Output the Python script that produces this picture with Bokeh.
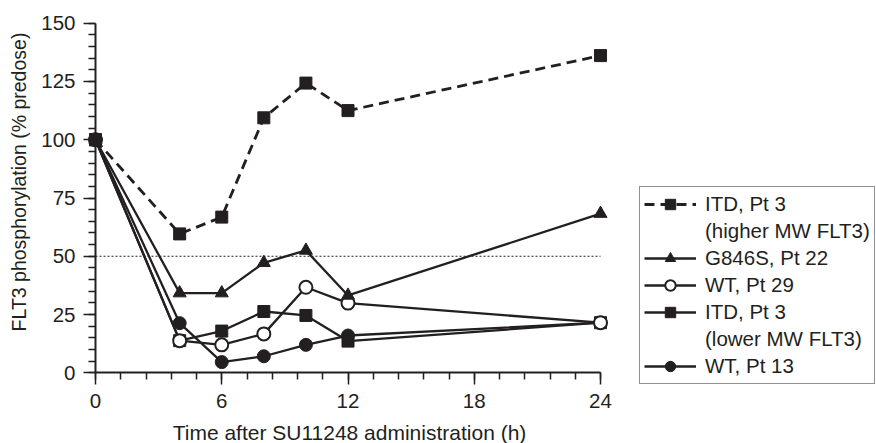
import math
from bokeh.plotting import figure
from bokeh.models import (Range1d, SingleIntervalTicker, Label, Legend, LegendItem)
from bokeh.embed import file_html
from bokeh.resources import INLINE

# ---- data ----
times = [0, 4, 6, 8, 10, 12, 24]
itd_high = [100, 59.6, 66.8, 109.4, 124.3, 112.5, 136.1]
g846s = [100, 34.2, 34.2, 47.2, 52.5, 33.2, 68.3]
wt29 = [100, 13.8, 12.0, 16.7, 36.7, 29.9, 21.5]
itd_low = [100, 13.8, 17.9, 26.3, 24.6, 13.6, 21.5]
wt13 = [100, 21.3, 4.6, 7.1, 12.0, 16.0, 21.5]
ref_x = [0, 24]
ref_y = [50, 50]
x_bounds = (0, 24)
y_bounds = (0, 150)
x_tick_interval = 6
y_tick_interval = 25

INK = "#231f20"
FONT = "Liberation Sans"

W, H = 876, 443
# canvas pixel positions of the axis ends
X0_PX, X24_PX = 95.0, 600.0
Y0_PX, Y150_PX = 372.3, 22.7
xs = (X24_PX - X0_PX) / 24.0
ys = (Y0_PX - Y150_PX) / 150.0
x_lo = -X0_PX / xs
x_hi = (W - X0_PX) / xs
y_hi = 150 + Y150_PX / ys
y_lo = -(H - Y0_PX) / ys

p = figure(width=W, height=H, output_backend="svg", toolbar_location=None,
           x_range=Range1d(x_lo, x_hi), y_range=Range1d(y_lo, y_hi),
           min_border=0, min_border_left=0, min_border_right=0,
           min_border_top=0, min_border_bottom=0)
p.outline_line_color = None
p.grid.visible = False
p.background_fill_color = "white"
p.border_fill_color = "white"

for ax in (p.xaxis[0], p.yaxis[0]):
    ax.axis_line_color = INK
    ax.axis_line_width = 2
    ax.major_tick_line_color = INK
    ax.minor_tick_line_color = INK
    ax.major_tick_line_width = 1.5
    ax.minor_tick_line_width = 1.5
    ax.major_tick_in = 0
    ax.minor_tick_in = 0
    ax.major_tick_out = 12
    ax.minor_tick_out = 7
    ax.major_label_text_font = FONT
    ax.major_label_text_font_size = "20.5px"
    ax.major_label_text_color = INK

p.xaxis[0].ticker = SingleIntervalTicker(interval=x_tick_interval, num_minor_ticks=5)
p.xaxis[0].bounds = x_bounds
p.xaxis[0].fixed_location = 0
p.xaxis[0].major_label_standoff = 9
p.yaxis[0].ticker = SingleIntervalTicker(interval=y_tick_interval, num_minor_ticks=5)
p.yaxis[0].bounds = y_bounds
p.yaxis[0].fixed_location = 0
p.yaxis[0].major_label_standoff = 8

# reference line at 50%
p.line(ref_x, ref_y, line_color=INK, line_width=1.2, line_dash="2 2")


def series(y, dash, marker, fill, line_w, label):
    r_line = p.line(times, y, line_color=INK, line_width=line_w, line_dash=dash)
    size = 12 if marker == "square" else 13
    r_mark = p.scatter(times, y, marker=marker, size=size, fill_color=fill,
                       line_color=INK, line_width=2 if fill == "white" else 1)
    return LegendItem(label=label, renderers=[r_line, r_mark])


def blank(label):
    r = p.line([], [], line_alpha=0)
    return LegendItem(label=label, renderers=[r])


it_wt13 = series(wt13, "solid", "circle", INK, 2.3, "WT, Pt 13")
it_low = series(itd_low, "solid", "square", INK, 2.3, "ITD, Pt 3")
it_wt29 = series(wt29, "solid", "circle", "white", 2.3, "WT, Pt 29")
it_g = series(g846s, "solid", "triangle", INK, 2.3, "G846S, Pt 22")
it_high = series(itd_high, "10 6", "square", INK, 2.8, "ITD, Pt 3")

items = [it_high, blank("(higher MW FLT3)"), it_g, it_wt29, it_low,
         blank("(lower MW FLT3)"), it_wt13]

legend = Legend(items=items, location=(639, H - 384))
legend.label_text_font = FONT
legend.label_text_font_size = "20.5px"
legend.label_text_color = INK
legend.glyph_width = 52
legend.glyph_height = 26
legend.label_height = 26
legend.spacing = 1
legend.padding = 4
legend.label_standoff = 9
legend.border_line_color = INK
legend.border_line_width = 1.5
legend.background_fill_alpha = 1
legend.margin = 0
p.add_layout(legend, "center")

ylab = Label(x=18, y=H - 181.5, x_units="screen", y_units="screen",
             text="FLT3 phosphorylation (% predose)", angle=math.pi / 2,
             text_align="center", text_baseline="middle",
             text_font=FONT, text_font_size="19.5px", text_color=INK)
xlab = Label(x=349, y=11, x_units="screen", y_units="screen",
             text="Time after SU11248 administration (h)",
             text_align="center", text_baseline="middle",
             text_font=FONT, text_font_size="21px", text_color=INK)
p.add_layout(ylab)
p.add_layout(xlab)

open("out.html", "w").write(file_html(p, INLINE))
